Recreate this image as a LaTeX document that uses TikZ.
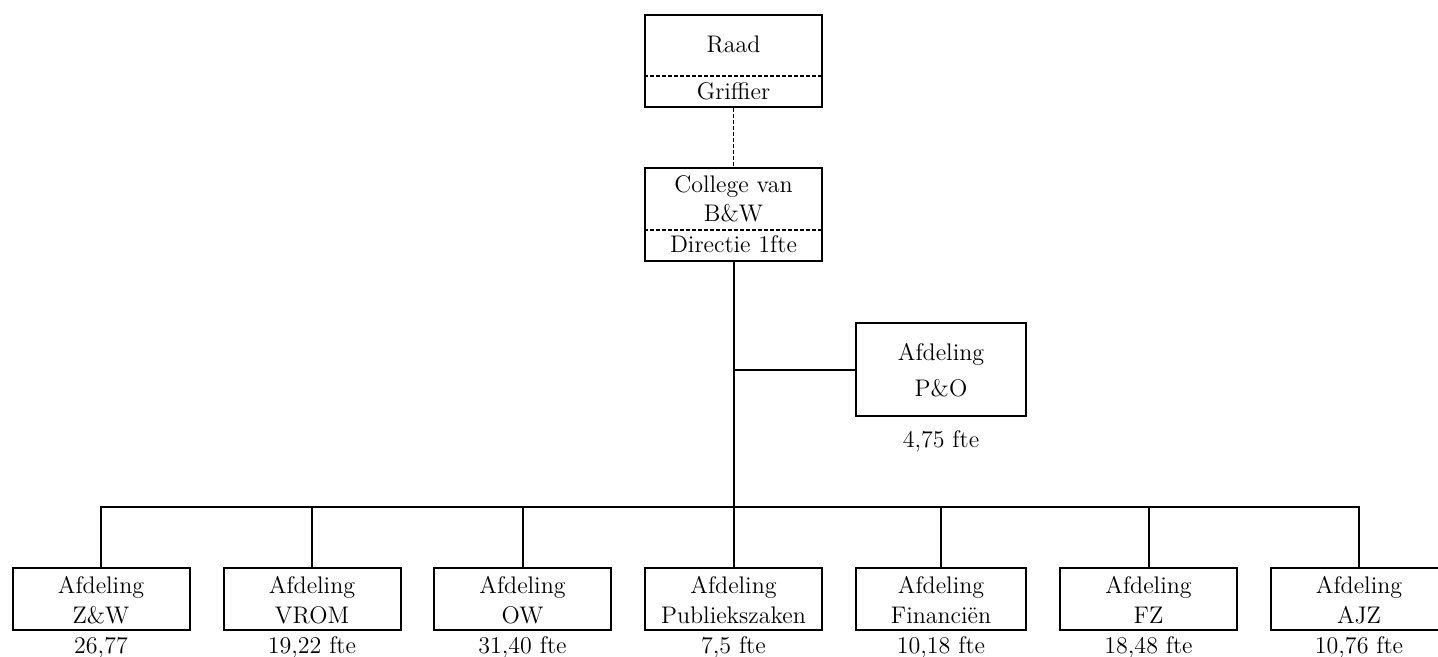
\documentclass[tikz,border=0pt]{standalone}
\usepackage{fontspec}
\usepackage{tikz}
\usetikzlibrary{positioning,calc}

\begin{document}
\begin{tikzpicture}[x=0.5pt,y=-0.5pt]
  \tikzstyle{kader}=[draw, line width=1pt, minimum width=88.5pt, inner sep=0pt]
  \tikzstyle{tekst}=[anchor=base, inner sep=0pt, font=\fontsize{12}{14}\selectfont]
  \tikzstyle{lijn}=[-, line width=1pt]
  \tikzstyle{stippel}=[-, line width=0.6pt, dash pattern=on 2pt off 1pt]

  \useasboundingbox (0,0) rectangle (1438,657);

  % Raad met griffier
  \node[kader, minimum height=46pt] (raad) at (733.5,61) {};
  \node[tekst] (raadtxt) at (733.5,53) {Raad};
  \node[tekst] (griffier) at (733.5,100) {Griffier};
  \coordinate (raaddiv) at (733.5,76);
  \draw[stippel] (raad.west |- raaddiv) -- (raad.east |- raaddiv);

  % College van B&W met directie
  \node[kader, minimum height=46.5pt] (college) at (733.5,214.5) {};
  \node[tekst] (collegetxt) at (733.5,193) {College van};
  \node[tekst] (bwtxt) at (733.5,222) {B\&W};
  \node[tekst] (directie) at (733.5,253) {Directie 1fte};
  \coordinate (collegediv) at (733.5,230);
  \draw[stippel] (college.west |- collegediv) -- (college.east |- collegediv);

  \draw[stippel] (raad.south) -- (college.north);

  % Afdeling P&O (staf)
  \node[kader, minimum width=85pt, minimum height=46.5pt] (po) at (941,369.5) {};
  \node[tekst] (potxt) at (941,360) {Afdeling};
  \node[tekst] (ponaam) at (941,396) {P\&O};
  \node[tekst] (pofte) at (941,447) {4,75 fte};

  % Lijnafdelingen
  \coordinate (bus) at (733.5,507);
  \foreach \x/\naam/\regel/\fte/\br in {
      101/zw/{Z\&W}/{26,77}/88.5,
      312/vrom/{VROM}/{19,22 fte}/88.5,
      522.5/ow/{OW}/{31,40 fte}/88.5,
      733.5/pz/{Publiekszaken}/{7,5 fte}/88.5,
      941/fin/{Financiën}/{10,18 fte}/85,
      1148.5/fz/{FZ}/{18,48 fte}/88.5,
      1359/ajz/{AJZ}/{10,76 fte}/88.5}{
    \node[kader, minimum width=\br pt, minimum height=30.75pt] (afd\naam) at (\x,598.75) {};
    \node[tekst] (afd\naam-a) at (\x,593) {Afdeling};
    \node[tekst] (afd\naam-b) at (\x,623) {\regel};
    \node[tekst] (afd\naam-c) at (\x,653) {\fte};
    \draw[lijn] (afd\naam.north) -- (afd\naam.north |- bus);
  }

  % Verbindingen
  \draw[lijn] (college.south) -- (bus);
  \draw[lijn] (po.west) -- (po.west -| college.south);
  \draw[lijn] (afdzw.north) |- (bus) -| (afdajz.north);
\end{tikzpicture}
\end{document}
